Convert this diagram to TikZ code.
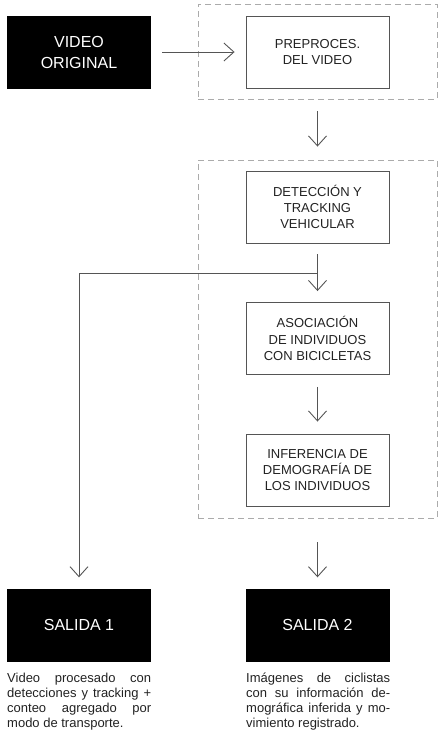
\documentclass[tikz,border=0pt]{standalone}
\usepackage{fontspec}
\setmainfont{Liberation Sans}
\usetikzlibrary{arrows.meta}

\definecolor{linea}{HTML}{555555}
\definecolor{guion}{HTML}{ABABAB}
\definecolor{texto}{HTML}{222222}

\begin{document}
\begin{tikzpicture}
[every node/.style={inner sep=0pt},
 negro/.style={rectangle, minimum width=144pt, minimum height=73pt, fill=black, text=white, font=\fontsize{16}{21}\selectfont, align=center},
 blanco/.style={rectangle, minimum width=143pt, minimum height=72pt, draw=linea, line width=0.9pt, text=texto, font=\fontsize{13}{16.3}\selectfont, align=center},
 grupo/.style={rectangle, draw=guion, line width=0.9pt, dash pattern=on 6pt off 4pt},
 nota/.style={anchor=north west, text width=144pt, align=justify, text=texto, font=\fontsize{13}{15.2}\selectfont},
 flecha/.style={line width=0.9pt, color=linea, -{Straight Barb[length=10pt, width=18pt]}}]
\useasboundingbox (0pt,0pt) rectangle (442pt,-737pt);
\node (fondo1) [grupo, minimum width=239pt, minimum height=95pt] at (317.5pt, -51.5pt) {};
\node (fondo2) [grupo, minimum width=239pt, minimum height=358pt] at (317.5pt, -339pt) {};
\node (video) [negro] at (79pt, -52pt) {VIDEO\\ORIGINAL};
\node (pre) [blanco] at (317.5pt, -52pt) {PREPROCES.\\DEL VIDEO};
\node (det) [blanco] at (317.5pt, -207pt) {DETECCIÓN Y\\TRACKING\\VEHICULAR};
\node (aso) [blanco] at (317.5pt, -338.5pt) {ASOCIACIÓN\\DE INDIVIDUOS\\CON BICICLETAS};
\node (inf) [blanco] at (317.5pt, -470pt) {INFERENCIA DE\\DEMOGRAFÍA DE\\LOS INDIVIDUOS};
\node (sal1) [negro] at (79pt, -625pt) {SALIDA 1};
\node (sal2) [negro] at (317.5pt, -625pt) {SALIDA 2};
\node (nota1) [nota] at (7pt, -672.5pt) {Video procesado con\linebreak detecciones y tracking +\linebreak conteo agregado por\linebreak modo de transporte.};
\node (nota2) [nota] at (246pt, -672.5pt) {Imágenes de ciclistas\linebreak con su información de-\linebreak mográfica inferida y mo-\linebreak vimiento registrado.};
\coordinate (rama) at (317.5pt, -273pt);
\draw [flecha, shorten <=11pt, shorten >=11pt] (video) -- (pre);
\draw [flecha, shorten <=12pt, shorten >=13pt] (fondo1) -- (fondo2);
\draw [flecha, shorten <=11pt, shorten >=11pt] (det) -- (aso);
\draw [flecha, shorten <=12pt, shorten >=12pt] (aso) -- (inf);
\draw [flecha, shorten <=24pt, shorten >=11pt] (fondo2) -- (sal2);
\draw [flecha, shorten >=11pt] (rama) -| (sal1);
\end{tikzpicture}
\end{document}
